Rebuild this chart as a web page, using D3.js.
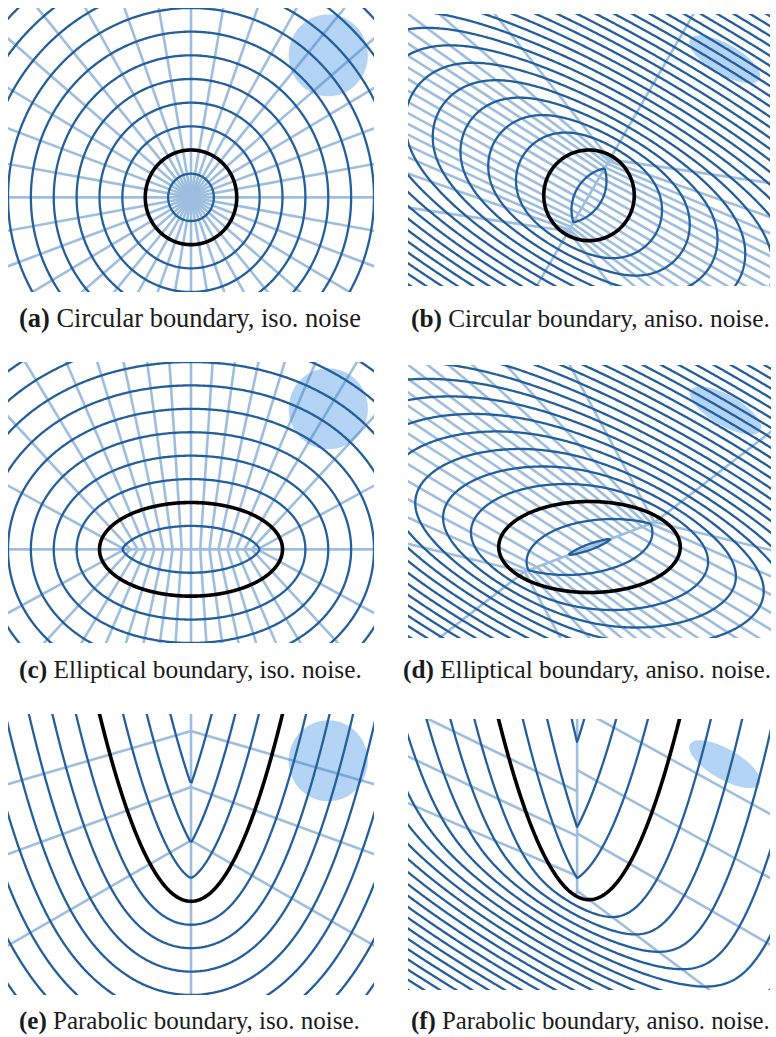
<!DOCTYPE html>
<html>
<head>
<meta charset="utf-8">
<script src="https://cdn.jsdelivr.net/npm/d3@7"></script>
<style>
	body { margin: 0; padding: 0; background: #fff; }
	svg { display: block; }
	.contour { fill: none; stroke: #235f9c; stroke-width: 2.3; stroke-linejoin: round; }
	.ray { fill: none; stroke: #3f7fc0; stroke-width: 2.6; }
	.boundary { fill: none; stroke: #000; stroke-width: 3.6; }
	.blob { fill: #b4d4f5; stroke: none; }
	.caption { font-family: "Liberation Serif", serif; font-size: 19px; fill: #1a1a1a; }
</style>
</head>
<body>
<svg id="fig" width="776" height="1037"></svg>
<script>

// ---- values ----
var panelLabels = ["(a)", "(b)", "(c)", "(d)", "(e)", "(f)"];
var captionText = [
	"Circular boundary, iso. noise",
	"Circular boundary, aniso. noise.",
	"Elliptical boundary, iso. noise.",
	"Elliptical boundary, aniso. noise.",
	"Parabolic boundary, iso. noise.",
	"Parabolic boundary, aniso. noise."
];
var boundaryShape = ["circle", "circle", "ellipse", "ellipse", "parabola", "parabola"];
var noiseType = ["iso", "aniso", "iso", "aniso", "iso", "aniso"];

var xDomain = [-8, 8];
var yDomain = [-4, 8];

var contourLevels = [1, 2, 3, 4, 5, 6, 7, 8, 9, 10, 11, 12, 13, 14, 15, 16, 17, 18, 19, 20, 21, 22, 23, 24, 25];

var circleRadius = 2;
var ellipseAxes = [4, 2];
var parabolaCoef = 0.5;          // y = 0.5 x^2

// noise scale used for the distance levels (std along major / minor axis)
var isoStd = [1, 1];
var anisoStd = [1.4, 0.37];
var anisoAngle = -30;            // degrees, major axis

// noise blob drawn in the corner (semi-axes)
var blobCenter = [6, 6];
var isoBlob = [1.73, 1.73];
var anisoBlob = [1.77, 0.67];

// ray feet, evenly spaced along the boundary
var closedRayCount = 36;
var parabolaRayArc = [-7.5, -5, -2.5, 0, 2.5, 5, 7.5];

// ---- layout ----
var panelBox = [
	[8, 8, 374, 292], [408, 14, 770, 286],
	[8, 362, 374, 643], [408, 365, 771, 638],
	[8, 714, 374, 995], [408, 719, 770, 990]
];
var captionBox = [
	[19, 361, 327], [411, 770, 327],
	[19, 362, 678], [403, 771, 678],
	[19, 360, 1029], [411, 770, 1029]
];

var svg = d3.select('#fig');
var defs = svg.append('defs');

// symmetric 2x2 matrices stored as [m11, m12, m22]
function symMat(l1, l2, angDeg) {
	var a = angDeg * Math.PI / 180, c = Math.cos(a), s = Math.sin(a);
	return [c * c * l1 + s * s * l2, c * s * (l1 - l2), s * s * l1 + c * c * l2];
}
function apply(m, x, y) { return [m[0] * x + m[1] * y, m[1] * x + m[2] * y]; }

function makeShape(kind) {
	if (kind == 'circle') return {
		closed: true, t0: 0, t1: 2 * Math.PI, n: 720,
		p: function(t) { return [circleRadius * Math.cos(t), circleRadius * Math.sin(t)]; },
		d: function(t) { return [-circleRadius * Math.sin(t), circleRadius * Math.cos(t)]; },
		ax: [circleRadius, circleRadius]
	};
	if (kind == 'ellipse') return {
		closed: true, t0: 0, t1: 2 * Math.PI, n: 720,
		p: function(t) { return [ellipseAxes[0] * Math.cos(t), ellipseAxes[1] * Math.sin(t)]; },
		d: function(t) { return [-ellipseAxes[0] * Math.sin(t), ellipseAxes[1] * Math.cos(t)]; },
		ax: ellipseAxes
	};
	return {
		closed: false, t0: -14, t1: 14, n: 560,
		p: function(t) { return [t, parabolaCoef * t * t]; },
		d: function(t) { return [1, 2 * parabolaCoef * t]; }
	};
}

// distance (whitened space) to a polyline
function makeDist(px, py) {
	var n = px.length - 1;
	var dx = new Float64Array(n), dy = new Float64Array(n), l2 = new Float64Array(n);
	for (var i = 0; i < n; i++) {
		dx[i] = px[i + 1] - px[i]; dy[i] = py[i + 1] - py[i];
		l2[i] = dx[i] * dx[i] + dy[i] * dy[i];
	}
	return function(qx, qy) {
		var best = Infinity;
		for (var i = 0; i < n; i++) {
			var wx = qx - px[i], wy = qy - py[i];
			var t = (wx * dx[i] + wy * dy[i]) / l2[i];
			if (t < 0) t = 0; else if (t > 1) t = 1;
			var ex = wx - t * dx[i], ey = wy - t * dy[i];
			var d2 = ex * ex + ey * ey;
			if (d2 < best) best = d2;
		}
		return Math.sqrt(best);
	};
}

// parameter values at given arc lengths (measured from t = 0)
function paramsAtArc(shape, arcs) {
	var m = 20000, ts = [], cum = [0];
	for (var i = 0; i <= m; i++) ts.push(shape.t0 + (shape.t1 - shape.t0) * i / m);
	for (var i = 1; i <= m; i++) {
		var a = shape.p(ts[i - 1]), b = shape.p(ts[i]);
		cum.push(cum[i - 1] + Math.hypot(b[0] - a[0], b[1] - a[1]));
	}
	var s0 = d3.scaleLinear().domain(ts).range(cum)(0);
	var inv = d3.scaleLinear().domain(cum).range(ts);
	return { total: cum[m], ts: arcs.map(function(s) { return inv(s0 + s); }) };
}

var gx0 = -9, gx1 = 9, gy0 = -5, gy1 = 9, h = 0.07;
var nx = Math.round((gx1 - gx0) / h) + 1, ny = Math.round((gy1 - gy0) / h) + 1;

panelLabels.forEach(function(label, k) {
	var box = panelBox[k];
	var xs = d3.scaleLinear().domain(xDomain).range([box[0], box[2]]);
	var ys = d3.scaleLinear().domain(yDomain).range([box[3], box[1]]);
	var iso = noiseType[k] == 'iso';
	var std = iso ? isoStd : anisoStd, ang = iso ? 0 : anisoAngle;
	var S = symMat(std[0], std[1], ang);            // Sigma^(1/2)
	var W = symMat(1 / std[0], 1 / std[1], ang);    // Sigma^(-1/2)
	var blobM = iso ? symMat(isoBlob[0], isoBlob[1], 0) : symMat(anisoBlob[0], anisoBlob[1], anisoAngle);
	var shape = makeShape(boundaryShape[k]);

	// whitened polyline of the boundary
	var px = [], py = [], orig = [];
	for (var i = 0; i <= shape.n; i++) {
		var t = shape.t0 + (shape.t1 - shape.t0) * i / shape.n;
		var p = shape.p(t);
		orig.push(p);
		var q = apply(W, p[0], p[1]);
		px.push(q[0]); py.push(q[1]);
	}
	var dist = makeDist(px, py);

	// distance field
	var values = new Float64Array(nx * ny);
	for (var j = 0; j < ny; j++) {
		var y = gy1 - j * h;
		for (var i = 0; i < nx; i++) {
			var x = gx0 + i * h;
			var q = apply(W, x, y);
			values[j * nx + i] = dist(q[0], q[1]) - 1e-9;
		}
	}

	defs.append('clipPath').attr('id', 'clip' + k)
		.append('rect')
		.attr('x', box[0]).attr('y', box[1])
		.attr('width', box[2] - box[0]).attr('height', box[3] - box[1]);
	var g = svg.append('g').attr('clip-path', 'url(#clip' + k + ')');

	var line = d3.line().x(function(d) { return xs(d[0]); }).y(function(d) { return ys(d[1]); });

	// noise blob
	var blobPts = d3.range(0, 361, 3).map(function(a) {
		var r = a * Math.PI / 180;
		var v = apply(blobM, Math.cos(r), Math.sin(r));
		return [blobCenter[0] + v[0], blobCenter[1] + v[1]];
	});
	g.append('path').attr('class', 'blob').attr('d', line(blobPts) + 'Z');

	// rays along the noise-scaled normals, stopped at the cut locus
	var feet;
	if (shape.closed) {
		var tot = paramsAtArc(shape, [0]).total;
		feet = paramsAtArc(shape, d3.range(closedRayCount).map(function(i) { return tot * i / closedRayCount; })).ts;
	} else {
		feet = paramsAtArc(shape, parabolaRayArc).ts;
	}
	var raySegs = feet.map(function(t) {
		var b = shape.p(t), tg = shape.d(t);
		var bw = apply(W, b[0], b[1]), tw = apply(W, tg[0], tg[1]);
		var len = Math.hypot(tw[0], tw[1]);
		var nxw = tw[1] / len, nyw = -tw[0] / len;
		var lo = 0, hi = 60;
		for (var it = 0; it < 40; it++) {
			var mid = (lo + hi) / 2;
			var d = dist(bw[0] - mid * nxw, bw[1] - mid * nyw);
			if (d >= mid - 0.004 * (1 + mid)) lo = mid; else hi = mid;
		}
		return [apply(S, bw[0] - lo * nxw, bw[1] - lo * nyw), apply(S, bw[0] + 200 * nxw, bw[1] + 200 * nyw)];
	});

	// medial axis (where inward rays meet)
	if (shape.closed) {
		var M = [W[0] * shape.ax[0], W[1] * shape.ax[1], W[1] * shape.ax[0], W[2] * shape.ax[1]];
		var G11 = M[0] * M[0] + M[1] * M[1], G12 = M[0] * M[2] + M[1] * M[3], G22 = M[2] * M[2] + M[3] * M[3];
		var tr = G11 + G22, det = G11 * G22 - G12 * G12;
		var disc = Math.sqrt(Math.max(0, tr * tr / 4 - det));
		var l1 = tr / 2 + disc, l2v = tr / 2 - disc;
		var A = Math.sqrt(l1), B = Math.sqrt(l2v);
		if (A - B > 1e-6) {
			var ex = G12, ey = l1 - G11;
			if (Math.abs(ex) + Math.abs(ey) < 1e-12) { ex = 1; ey = 0; }
			var el = Math.hypot(ex, ey); ex /= el; ey /= el;
			var c = A - B * B / A;
			raySegs.push([apply(S, c * ex, c * ey), apply(S, -c * ex, -c * ey)]);
		}
	} else {
		var Si12 = W[0] * W[1] + W[1] * W[2], Si22 = W[1] * W[1] + W[2] * W[2];
		var ts = -Si12 / Si22;
		var pw = apply(W, ts, parabolaCoef * ts * ts);
		var d1 = apply(W, 1, 2 * parabolaCoef * ts), d2 = apply(W, 0, 2 * parabolaCoef);
		var n2 = Math.hypot(d2[0], d2[1]), n1s = d1[0] * d1[0] + d1[1] * d1[1];
		var rho = n1s / n2;
		var Nx = d2[0] / n2, Ny = d2[1] / n2;
		var cx = pw[0] + rho * Nx, cy = pw[1] + rho * Ny;
		raySegs.push([apply(S, cx, cy), apply(S, cx + 300 * Nx, cy + 300 * Ny)]);
	}

	g.append('g').attr('opacity', 0.5)
		.selectAll('line').data(raySegs).join('line')
		.attr('class', 'ray')
		.attr('x1', function(d) { return xs(d[0][0]); })
		.attr('y1', function(d) { return ys(d[0][1]); })
		.attr('x2', function(d) { return xs(d[1][0]); })
		.attr('y2', function(d) { return ys(d[1][1]); });

	// level sets of the noise-scaled distance
	var contours = d3.contours().size([nx, ny]).thresholds(contourLevels)(values);
	var proj = d3.geoTransform({
		point: function(x, y) { this.stream.point(xs(gx0 + (x - 0.5) * h), ys(gy1 - (y - 0.5) * h)); }
	});
	g.selectAll('.contour').data(contours).join('path')
		.attr('class', 'contour')
		.attr('d', d3.geoPath(proj));

	// decision boundary
	g.append('path').attr('class', 'boundary')
		.attr('d', line(orig) + (shape.closed ? 'Z' : ''));

	// caption
	var cb = captionBox[k];
	var txt = svg.append('text').attr('class', 'caption')
		.attr('x', cb[0]).attr('y', cb[2]);
	txt.append('tspan').attr('font-weight', 'bold').text(label);
	txt.append('tspan').text(' ' + captionText[k]);
	var w = txt.node().getComputedTextLength();
	txt.style('font-size', (19 * (cb[1] - cb[0]) / w) + 'px');
});

</script>
</body>
</html>
